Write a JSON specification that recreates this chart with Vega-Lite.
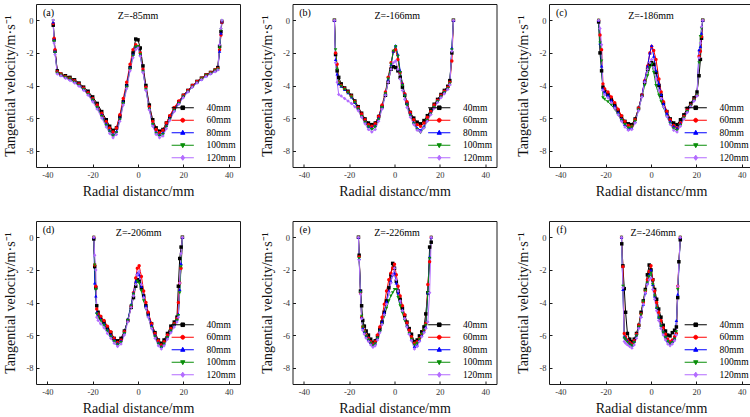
{
  "$schema": "https://vega.github.io/schema/vega-lite/v6.json",
  "padding": {"left": 3, "top": 3, "right": 0, "bottom": 0},
  "config": {
    "view": {"stroke": "#1a1a1a", "strokeWidth": 1},
    "font": "Liberation Serif",
    "axis": {
      "domain": false, "grid": false, "tickSize": -3, "tickColor": "#1a1a1a", "tickWidth": 1,
      "labelFont": "Liberation Serif", "labelFontSize": 8.5, "labelColor": "#333", "labelPadding": 6,
      "titleFont": "Liberation Serif", "titleFontSize": 14, "titleFontWeight": "normal", "titleColor": "#111",
      "labelExpr": "'' + datum.value"
    },
    "axisX": {"titlePadding": 6},
    "axisY": {"titlePadding": 8},
    "text": {"font": "Liberation Serif", "fontSize": 10, "color": "#000"},
    "legend": {
      "orient": "bottom-right", "offset": 4, "padding": 0,
      "symbolSize": 36, "symbolOffset": 11, "labelOffset": 19, "rowPadding": 1.5,
      "labelFont": "Liberation Serif", "labelFontSize": 9.5, "labelColor": "#000"
    }
  },
  "datasets": {
    "a": [
      {"s":"40mm","x":-37.4,"y":-0.3},{"s":"40mm","x":-37,"y":-1.2},{"s":"40mm","x":-36.6,"y":-1.9},{"s":"40mm","x":-35.6,"y":-3.1},{"s":"40mm","x":-34,"y":-3.3},{"s":"40mm","x":-32,"y":-3.4},{"s":"40mm","x":-30,"y":-3.5},{"s":"40mm","x":-28,"y":-3.65},{"s":"40mm","x":-26,"y":-3.85},{"s":"40mm","x":-24,"y":-4.1},{"s":"40mm","x":-22,"y":-4.35},{"s":"40mm","x":-20,"y":-4.7},{"s":"40mm","x":-18,"y":-5.1},{"s":"40mm","x":-16,"y":-5.6},{"s":"40mm","x":-14,"y":-6.1},{"s":"40mm","x":-12.5,"y":-6.5},{"s":"40mm","x":-11,"y":-6.75},{"s":"40mm","x":-9.5,"y":-6.6},{"s":"40mm","x":-8,"y":-5.9},{"s":"40mm","x":-6.5,"y":-5.0},{"s":"40mm","x":-5,"y":-4.0},{"s":"40mm","x":-3.5,"y":-2.9},{"s":"40mm","x":-2.2,"y":-2.0},{"s":"40mm","x":-1,"y":-1.15},{"s":"40mm","x":0,"y":-1.2},{"s":"40mm","x":1,"y":-1.7},{"s":"40mm","x":2.2,"y":-2.8},{"s":"40mm","x":3.5,"y":-4.0},{"s":"40mm","x":5,"y":-5.2},{"s":"40mm","x":6.5,"y":-6.1},{"s":"40mm","x":8,"y":-6.6},{"s":"40mm","x":9.5,"y":-6.8},{"s":"40mm","x":11,"y":-6.7},{"s":"40mm","x":12.5,"y":-6.3},{"s":"40mm","x":14,"y":-5.9},{"s":"40mm","x":16,"y":-5.4},{"s":"40mm","x":18,"y":-5.0},{"s":"40mm","x":20,"y":-4.6},{"s":"40mm","x":22,"y":-4.3},{"s":"40mm","x":24,"y":-4.0},{"s":"40mm","x":26,"y":-3.75},{"s":"40mm","x":28,"y":-3.55},{"s":"40mm","x":30,"y":-3.35},{"s":"40mm","x":32,"y":-3.2},{"s":"40mm","x":34,"y":-3.05},{"s":"40mm","x":35.2,"y":-2.9},{"s":"40mm","x":36,"y":-1.6},{"s":"40mm","x":36.6,"y":-0.7},{"s":"40mm","x":37,"y":-0.1},
      {"s":"60mm","x":-37.4,"y":-0.2},{"s":"60mm","x":-37,"y":-1.1},{"s":"60mm","x":-36.6,"y":-1.8},{"s":"60mm","x":-35.6,"y":-3.15},{"s":"60mm","x":-34,"y":-3.3},{"s":"60mm","x":-32,"y":-3.45},{"s":"60mm","x":-30,"y":-3.55},{"s":"60mm","x":-28,"y":-3.7},{"s":"60mm","x":-26,"y":-3.9},{"s":"60mm","x":-24,"y":-4.15},{"s":"60mm","x":-22,"y":-4.45},{"s":"60mm","x":-20,"y":-4.8},{"s":"60mm","x":-18,"y":-5.2},{"s":"60mm","x":-16,"y":-5.7},{"s":"60mm","x":-14,"y":-6.2},{"s":"60mm","x":-12.5,"y":-6.6},{"s":"60mm","x":-11,"y":-6.85},{"s":"60mm","x":-9.5,"y":-6.6},{"s":"60mm","x":-8,"y":-5.8},{"s":"60mm","x":-6.5,"y":-4.8},{"s":"60mm","x":-5,"y":-3.8},{"s":"60mm","x":-3.5,"y":-2.7},{"s":"60mm","x":-2.2,"y":-1.8},{"s":"60mm","x":-1,"y":-1.5},{"s":"60mm","x":0,"y":-1.6},{"s":"60mm","x":1,"y":-2.0},{"s":"60mm","x":2.2,"y":-3.0},{"s":"60mm","x":3.5,"y":-4.1},{"s":"60mm","x":5,"y":-5.3},{"s":"60mm","x":6.5,"y":-6.2},{"s":"60mm","x":8,"y":-6.7},{"s":"60mm","x":9.5,"y":-6.9},{"s":"60mm","x":11,"y":-6.75},{"s":"60mm","x":12.5,"y":-6.3},{"s":"60mm","x":14,"y":-5.85},{"s":"60mm","x":16,"y":-5.35},{"s":"60mm","x":18,"y":-4.95},{"s":"60mm","x":20,"y":-4.6},{"s":"60mm","x":22,"y":-4.3},{"s":"60mm","x":24,"y":-4.0},{"s":"60mm","x":26,"y":-3.75},{"s":"60mm","x":28,"y":-3.55},{"s":"60mm","x":30,"y":-3.35},{"s":"60mm","x":32,"y":-3.2},{"s":"60mm","x":34,"y":-3.05},{"s":"60mm","x":35.2,"y":-2.95},{"s":"60mm","x":36,"y":-1.8},{"s":"60mm","x":36.6,"y":-0.9},{"s":"60mm","x":37,"y":-0.1},
      {"s":"80mm","x":-37.4,"y":-0.1},{"s":"80mm","x":-37,"y":-1.2},{"s":"80mm","x":-36.6,"y":-1.9},{"s":"80mm","x":-35.6,"y":-3.2},{"s":"80mm","x":-34,"y":-3.35},{"s":"80mm","x":-32,"y":-3.5},{"s":"80mm","x":-30,"y":-3.6},{"s":"80mm","x":-28,"y":-3.75},{"s":"80mm","x":-26,"y":-3.95},{"s":"80mm","x":-24,"y":-4.2},{"s":"80mm","x":-22,"y":-4.5},{"s":"80mm","x":-20,"y":-4.85},{"s":"80mm","x":-18,"y":-5.3},{"s":"80mm","x":-16,"y":-5.8},{"s":"80mm","x":-14,"y":-6.35},{"s":"80mm","x":-12.5,"y":-6.75},{"s":"80mm","x":-11,"y":-7.0},{"s":"80mm","x":-9.5,"y":-6.8},{"s":"80mm","x":-8,"y":-6.0},{"s":"80mm","x":-6.5,"y":-5.0},{"s":"80mm","x":-5,"y":-4.0},{"s":"80mm","x":-3.5,"y":-2.9},{"s":"80mm","x":-2.2,"y":-2.1},{"s":"80mm","x":-1,"y":-1.6},{"s":"80mm","x":0,"y":-1.6},{"s":"80mm","x":1,"y":-2.1},{"s":"80mm","x":2.2,"y":-3.1},{"s":"80mm","x":3.5,"y":-4.2},{"s":"80mm","x":5,"y":-5.4},{"s":"80mm","x":6.5,"y":-6.35},{"s":"80mm","x":8,"y":-6.85},{"s":"80mm","x":9.5,"y":-7.0},{"s":"80mm","x":11,"y":-6.9},{"s":"80mm","x":12.5,"y":-6.45},{"s":"80mm","x":14,"y":-6.0},{"s":"80mm","x":16,"y":-5.5},{"s":"80mm","x":18,"y":-5.05},{"s":"80mm","x":20,"y":-4.65},{"s":"80mm","x":22,"y":-4.35},{"s":"80mm","x":24,"y":-4.05},{"s":"80mm","x":26,"y":-3.8},{"s":"80mm","x":28,"y":-3.6},{"s":"80mm","x":30,"y":-3.4},{"s":"80mm","x":32,"y":-3.25},{"s":"80mm","x":34,"y":-3.1},{"s":"80mm","x":35.2,"y":-3.0},{"s":"80mm","x":36,"y":-1.9},{"s":"80mm","x":36.6,"y":-0.8},{"s":"80mm","x":37,"y":-0.05},
      {"s":"100mm","x":-37.4,"y":-0.05},{"s":"100mm","x":-37,"y":-1.3},{"s":"100mm","x":-36.6,"y":-2.0},{"s":"100mm","x":-35.6,"y":-3.25},{"s":"100mm","x":-34,"y":-3.35},{"s":"100mm","x":-32,"y":-3.5},{"s":"100mm","x":-30,"y":-3.6},{"s":"100mm","x":-28,"y":-3.8},{"s":"100mm","x":-26,"y":-4.0},{"s":"100mm","x":-24,"y":-4.25},{"s":"100mm","x":-22,"y":-4.55},{"s":"100mm","x":-20,"y":-4.9},{"s":"100mm","x":-18,"y":-5.35},{"s":"100mm","x":-16,"y":-5.9},{"s":"100mm","x":-14,"y":-6.45},{"s":"100mm","x":-12.5,"y":-6.85},{"s":"100mm","x":-11,"y":-7.1},{"s":"100mm","x":-9.5,"y":-6.9},{"s":"100mm","x":-8,"y":-6.1},{"s":"100mm","x":-6.5,"y":-5.1},{"s":"100mm","x":-5,"y":-4.1},{"s":"100mm","x":-3.5,"y":-3.0},{"s":"100mm","x":-2.2,"y":-2.2},{"s":"100mm","x":-1,"y":-1.65},{"s":"100mm","x":0,"y":-1.6},{"s":"100mm","x":1,"y":-2.1},{"s":"100mm","x":2.2,"y":-3.15},{"s":"100mm","x":3.5,"y":-4.25},{"s":"100mm","x":5,"y":-5.45},{"s":"100mm","x":6.5,"y":-6.4},{"s":"100mm","x":8,"y":-6.95},{"s":"100mm","x":9.5,"y":-7.1},{"s":"100mm","x":11,"y":-7.0},{"s":"100mm","x":12.5,"y":-6.55},{"s":"100mm","x":14,"y":-6.1},{"s":"100mm","x":16,"y":-5.55},{"s":"100mm","x":18,"y":-5.1},{"s":"100mm","x":20,"y":-4.7},{"s":"100mm","x":22,"y":-4.4},{"s":"100mm","x":24,"y":-4.1},{"s":"100mm","x":26,"y":-3.85},{"s":"100mm","x":28,"y":-3.6},{"s":"100mm","x":30,"y":-3.4},{"s":"100mm","x":32,"y":-3.25},{"s":"100mm","x":34,"y":-3.1},{"s":"100mm","x":35.2,"y":-3.0},{"s":"100mm","x":36,"y":-1.7},{"s":"100mm","x":36.6,"y":-0.6},{"s":"100mm","x":37,"y":-0.05},
      {"s":"120mm","x":-37.4,"y":0},{"s":"120mm","x":-37,"y":-1.4},{"s":"120mm","x":-36.6,"y":-2.1},{"s":"120mm","x":-35.6,"y":-3.3},{"s":"120mm","x":-34,"y":-3.4},{"s":"120mm","x":-32,"y":-3.55},{"s":"120mm","x":-30,"y":-3.7},{"s":"120mm","x":-28,"y":-3.85},{"s":"120mm","x":-26,"y":-4.05},{"s":"120mm","x":-24,"y":-4.3},{"s":"120mm","x":-22,"y":-4.6},{"s":"120mm","x":-20,"y":-5.0},{"s":"120mm","x":-18,"y":-5.45},{"s":"120mm","x":-16,"y":-6.0},{"s":"120mm","x":-14,"y":-6.55},{"s":"120mm","x":-12.5,"y":-6.95},{"s":"120mm","x":-11,"y":-7.2},{"s":"120mm","x":-9.5,"y":-7.0},{"s":"120mm","x":-8,"y":-6.2},{"s":"120mm","x":-6.5,"y":-5.2},{"s":"120mm","x":-5,"y":-4.2},{"s":"120mm","x":-3.5,"y":-3.1},{"s":"120mm","x":-2.2,"y":-2.3},{"s":"120mm","x":-1,"y":-1.8},{"s":"120mm","x":0,"y":-1.7},{"s":"120mm","x":1,"y":-2.2},{"s":"120mm","x":2.2,"y":-3.2},{"s":"120mm","x":3.5,"y":-4.3},{"s":"120mm","x":5,"y":-5.5},{"s":"120mm","x":6.5,"y":-6.5},{"s":"120mm","x":8,"y":-7.0},{"s":"120mm","x":9.5,"y":-7.2},{"s":"120mm","x":11,"y":-7.1},{"s":"120mm","x":12.5,"y":-6.65},{"s":"120mm","x":14,"y":-6.15},{"s":"120mm","x":16,"y":-5.6},{"s":"120mm","x":18,"y":-5.15},{"s":"120mm","x":20,"y":-4.75},{"s":"120mm","x":22,"y":-4.4},{"s":"120mm","x":24,"y":-4.1},{"s":"120mm","x":26,"y":-3.85},{"s":"120mm","x":28,"y":-3.65},{"s":"120mm","x":30,"y":-3.45},{"s":"120mm","x":32,"y":-3.3},{"s":"120mm","x":34,"y":-3.15},{"s":"120mm","x":35.2,"y":-3.05},{"s":"120mm","x":36,"y":-1.5},{"s":"120mm","x":36.6,"y":-0.5},{"s":"120mm","x":37,"y":0}
    ],
    "b": [
      {"s":"40mm","x":-26.5,"y":0},{"s":"40mm","x":-26,"y":-2.1},{"s":"40mm","x":-25.3,"y":-3.1},{"s":"40mm","x":-24.6,"y":-3.5},{"s":"40mm","x":-23.5,"y":-3.9},{"s":"40mm","x":-22,"y":-4.15},{"s":"40mm","x":-20.5,"y":-4.35},{"s":"40mm","x":-19,"y":-4.6},{"s":"40mm","x":-17.5,"y":-4.95},{"s":"40mm","x":-16,"y":-5.3},{"s":"40mm","x":-14.5,"y":-5.7},{"s":"40mm","x":-13,"y":-6.05},{"s":"40mm","x":-11.5,"y":-6.3},{"s":"40mm","x":-10,"y":-6.4},{"s":"40mm","x":-8.5,"y":-6.3},{"s":"40mm","x":-7,"y":-5.9},{"s":"40mm","x":-5.5,"y":-5.3},{"s":"40mm","x":-4,"y":-4.6},{"s":"40mm","x":-2.8,"y":-3.8},{"s":"40mm","x":-1.5,"y":-3.0},{"s":"40mm","x":-0.5,"y":-2.85},{"s":"40mm","x":0.5,"y":-2.9},{"s":"40mm","x":1.5,"y":-3.1},{"s":"40mm","x":2.5,"y":-3.5},{"s":"40mm","x":3.5,"y":-4.1},{"s":"40mm","x":4.5,"y":-4.6},{"s":"40mm","x":5.5,"y":-5.1},{"s":"40mm","x":7,"y":-5.65},{"s":"40mm","x":8.5,"y":-6.0},{"s":"40mm","x":10,"y":-6.25},{"s":"40mm","x":11.5,"y":-6.35},{"s":"40mm","x":13,"y":-6.15},{"s":"40mm","x":14.5,"y":-5.85},{"s":"40mm","x":16,"y":-5.5},{"s":"40mm","x":17.5,"y":-5.15},{"s":"40mm","x":19,"y":-4.85},{"s":"40mm","x":20.5,"y":-4.55},{"s":"40mm","x":22,"y":-4.3},{"s":"40mm","x":23.5,"y":-4.05},{"s":"40mm","x":24.4,"y":-3.7},{"s":"40mm","x":25.3,"y":-2.0},{"s":"40mm","x":26,"y":0},
      {"s":"60mm","x":-26.5,"y":0},{"s":"60mm","x":-26,"y":-2.0},{"s":"60mm","x":-25.3,"y":-2.7},{"s":"60mm","x":-24.6,"y":-3.8},{"s":"60mm","x":-23.5,"y":-4.0},{"s":"60mm","x":-22,"y":-4.2},{"s":"60mm","x":-20.5,"y":-4.4},{"s":"60mm","x":-19,"y":-4.65},{"s":"60mm","x":-17.5,"y":-5.0},{"s":"60mm","x":-16,"y":-5.35},{"s":"60mm","x":-14.5,"y":-5.75},{"s":"60mm","x":-13,"y":-6.1},{"s":"60mm","x":-11.5,"y":-6.4},{"s":"60mm","x":-10,"y":-6.5},{"s":"60mm","x":-8.5,"y":-6.35},{"s":"60mm","x":-7,"y":-5.9},{"s":"60mm","x":-5.5,"y":-5.2},{"s":"60mm","x":-4,"y":-4.4},{"s":"60mm","x":-2.8,"y":-3.5},{"s":"60mm","x":-1.5,"y":-2.6},{"s":"60mm","x":-0.5,"y":-1.9},{"s":"60mm","x":0.5,"y":-1.8},{"s":"60mm","x":1.5,"y":-2.4},{"s":"60mm","x":2.5,"y":-3.2},{"s":"60mm","x":3.5,"y":-3.9},{"s":"60mm","x":4.5,"y":-4.5},{"s":"60mm","x":5.5,"y":-5.0},{"s":"60mm","x":7,"y":-5.65},{"s":"60mm","x":8.5,"y":-6.1},{"s":"60mm","x":10,"y":-6.4},{"s":"60mm","x":11.5,"y":-6.5},{"s":"60mm","x":13,"y":-6.3},{"s":"60mm","x":14.5,"y":-5.95},{"s":"60mm","x":16,"y":-5.6},{"s":"60mm","x":17.5,"y":-5.2},{"s":"60mm","x":19,"y":-4.9},{"s":"60mm","x":20.5,"y":-4.6},{"s":"60mm","x":22,"y":-4.35},{"s":"60mm","x":23.5,"y":-4.1},{"s":"60mm","x":24.4,"y":-3.8},{"s":"60mm","x":25.3,"y":-2.5},{"s":"60mm","x":26,"y":0},
      {"s":"80mm","x":-26.5,"y":0},{"s":"80mm","x":-26,"y":-2.4},{"s":"80mm","x":-25.3,"y":-3.3},{"s":"80mm","x":-24.6,"y":-3.9},{"s":"80mm","x":-23.5,"y":-4.05},{"s":"80mm","x":-22,"y":-4.25},{"s":"80mm","x":-20.5,"y":-4.45},{"s":"80mm","x":-19,"y":-4.7},{"s":"80mm","x":-17.5,"y":-5.05},{"s":"80mm","x":-16,"y":-5.4},{"s":"80mm","x":-14.5,"y":-5.85},{"s":"80mm","x":-13,"y":-6.2},{"s":"80mm","x":-11.5,"y":-6.5},{"s":"80mm","x":-10,"y":-6.6},{"s":"80mm","x":-8.5,"y":-6.45},{"s":"80mm","x":-7,"y":-6.0},{"s":"80mm","x":-5.5,"y":-5.3},{"s":"80mm","x":-4,"y":-4.5},{"s":"80mm","x":-2.8,"y":-3.6},{"s":"80mm","x":-1.5,"y":-2.7},{"s":"80mm","x":-0.5,"y":-1.9},{"s":"80mm","x":0.5,"y":-1.55},{"s":"80mm","x":1.5,"y":-2.1},{"s":"80mm","x":2.5,"y":-3.1},{"s":"80mm","x":3.5,"y":-3.9},{"s":"80mm","x":4.5,"y":-4.55},{"s":"80mm","x":5.5,"y":-5.1},{"s":"80mm","x":7,"y":-5.75},{"s":"80mm","x":8.5,"y":-6.25},{"s":"80mm","x":10,"y":-6.6},{"s":"80mm","x":11.5,"y":-6.75},{"s":"80mm","x":13,"y":-6.5},{"s":"80mm","x":14.5,"y":-6.1},{"s":"80mm","x":16,"y":-5.7},{"s":"80mm","x":17.5,"y":-5.3},{"s":"80mm","x":19,"y":-4.95},{"s":"80mm","x":20.5,"y":-4.65},{"s":"80mm","x":22,"y":-4.4},{"s":"80mm","x":23.5,"y":-4.15},{"s":"80mm","x":24.4,"y":-3.9},{"s":"80mm","x":25.3,"y":-1.7},{"s":"80mm","x":26,"y":0},
      {"s":"100mm","x":-26.5,"y":0},{"s":"100mm","x":-26,"y":-1.8},{"s":"100mm","x":-25.3,"y":-3.0},{"s":"100mm","x":-24.6,"y":-3.85},{"s":"100mm","x":-23.5,"y":-4.05},{"s":"100mm","x":-22,"y":-4.25},{"s":"100mm","x":-20.5,"y":-4.45},{"s":"100mm","x":-19,"y":-4.7},{"s":"100mm","x":-17.5,"y":-5.05},{"s":"100mm","x":-16,"y":-5.45},{"s":"100mm","x":-14.5,"y":-5.9},{"s":"100mm","x":-13,"y":-6.25},{"s":"100mm","x":-11.5,"y":-6.55},{"s":"100mm","x":-10,"y":-6.7},{"s":"100mm","x":-8.5,"y":-6.55},{"s":"100mm","x":-7,"y":-6.1},{"s":"100mm","x":-5.5,"y":-5.35},{"s":"100mm","x":-4,"y":-4.5},{"s":"100mm","x":-2.8,"y":-3.6},{"s":"100mm","x":-1.5,"y":-2.7},{"s":"100mm","x":-0.5,"y":-1.9},{"s":"100mm","x":0.5,"y":-1.6},{"s":"100mm","x":1.5,"y":-2.2},{"s":"100mm","x":2.5,"y":-3.2},{"s":"100mm","x":3.5,"y":-4.0},{"s":"100mm","x":4.5,"y":-4.65},{"s":"100mm","x":5.5,"y":-5.2},{"s":"100mm","x":7,"y":-5.85},{"s":"100mm","x":8.5,"y":-6.35},{"s":"100mm","x":10,"y":-6.7},{"s":"100mm","x":11.5,"y":-6.9},{"s":"100mm","x":13,"y":-6.6},{"s":"100mm","x":14.5,"y":-6.15},{"s":"100mm","x":16,"y":-5.75},{"s":"100mm","x":17.5,"y":-5.35},{"s":"100mm","x":19,"y":-5.0},{"s":"100mm","x":20.5,"y":-4.7},{"s":"100mm","x":22,"y":-4.45},{"s":"100mm","x":23.5,"y":-4.2},{"s":"100mm","x":24.4,"y":-3.9},{"s":"100mm","x":25.3,"y":-1.8},{"s":"100mm","x":26,"y":0},
      {"s":"120mm","x":-26.5,"y":0},{"s":"120mm","x":-26,"y":-2.6},{"s":"120mm","x":-25.3,"y":-3.8},{"s":"120mm","x":-24.6,"y":-4.55},{"s":"120mm","x":-23.5,"y":-4.65},{"s":"120mm","x":-22,"y":-4.8},{"s":"120mm","x":-20.5,"y":-4.95},{"s":"120mm","x":-19,"y":-5.1},{"s":"120mm","x":-17.5,"y":-5.3},{"s":"120mm","x":-16,"y":-5.55},{"s":"120mm","x":-14.5,"y":-5.95},{"s":"120mm","x":-13,"y":-6.35},{"s":"120mm","x":-11.5,"y":-6.7},{"s":"120mm","x":-10,"y":-6.85},{"s":"120mm","x":-8.5,"y":-6.7},{"s":"120mm","x":-7,"y":-6.2},{"s":"120mm","x":-5.5,"y":-5.45},{"s":"120mm","x":-4,"y":-4.6},{"s":"120mm","x":-2.8,"y":-3.8},{"s":"120mm","x":-1.5,"y":-3.0},{"s":"120mm","x":-0.5,"y":-2.6},{"s":"120mm","x":0.5,"y":-2.5},{"s":"120mm","x":1.5,"y":-3.0},{"s":"120mm","x":2.5,"y":-3.6},{"s":"120mm","x":3.5,"y":-4.3},{"s":"120mm","x":4.5,"y":-4.85},{"s":"120mm","x":5.5,"y":-5.35},{"s":"120mm","x":7,"y":-5.95},{"s":"120mm","x":8.5,"y":-6.4},{"s":"120mm","x":10,"y":-6.75},{"s":"120mm","x":11.5,"y":-6.85},{"s":"120mm","x":13,"y":-6.6},{"s":"120mm","x":14.5,"y":-6.2},{"s":"120mm","x":16,"y":-5.8},{"s":"120mm","x":17.5,"y":-5.4},{"s":"120mm","x":19,"y":-5.05},{"s":"120mm","x":20.5,"y":-4.75},{"s":"120mm","x":22,"y":-4.5},{"s":"120mm","x":23.5,"y":-4.25},{"s":"120mm","x":24.4,"y":-3.95},{"s":"120mm","x":25.3,"y":-1.9},{"s":"120mm","x":26,"y":0}
    ],
    "c": [
      {"s":"40mm","x":-23.1,"y":-0.1},{"s":"40mm","x":-22.5,"y":-2.0},{"s":"40mm","x":-21.8,"y":-3.1},{"s":"40mm","x":-21.2,"y":-4.1},{"s":"40mm","x":-20.5,"y":-4.3},{"s":"40mm","x":-19,"y":-4.55},{"s":"40mm","x":-17.5,"y":-4.85},{"s":"40mm","x":-16,"y":-5.2},{"s":"40mm","x":-14.5,"y":-5.55},{"s":"40mm","x":-13,"y":-5.9},{"s":"40mm","x":-11.5,"y":-6.2},{"s":"40mm","x":-10,"y":-6.35},{"s":"40mm","x":-8.5,"y":-6.4},{"s":"40mm","x":-7,"y":-6.05},{"s":"40mm","x":-5.5,"y":-5.4},{"s":"40mm","x":-4,"y":-4.6},{"s":"40mm","x":-2.8,"y":-3.8},{"s":"40mm","x":-1.5,"y":-3.0},{"s":"40mm","x":-0.5,"y":-2.7},{"s":"40mm","x":0.3,"y":-2.6},{"s":"40mm","x":1.2,"y":-2.7},{"s":"40mm","x":2.2,"y":-3.2},{"s":"40mm","x":3.5,"y":-4.0},{"s":"40mm","x":4.5,"y":-4.6},{"s":"40mm","x":5.5,"y":-5.1},{"s":"40mm","x":7,"y":-5.6},{"s":"40mm","x":8.5,"y":-6.05},{"s":"40mm","x":10,"y":-6.3},{"s":"40mm","x":11.5,"y":-6.4},{"s":"40mm","x":13,"y":-6.1},{"s":"40mm","x":14.5,"y":-5.8},{"s":"40mm","x":16,"y":-5.4},{"s":"40mm","x":17.5,"y":-5.1},{"s":"40mm","x":19,"y":-4.75},{"s":"40mm","x":20.3,"y":-4.4},{"s":"40mm","x":21.2,"y":-3.4},{"s":"40mm","x":21.8,"y":-2.4},{"s":"40mm","x":22.3,"y":-1.1},{"s":"40mm","x":22.8,"y":0},
      {"s":"60mm","x":-23.1,"y":0},{"s":"60mm","x":-22.5,"y":-0.9},{"s":"60mm","x":-21.8,"y":-1.8},{"s":"60mm","x":-21.2,"y":-3.9},{"s":"60mm","x":-20.5,"y":-4.2},{"s":"60mm","x":-19,"y":-4.4},{"s":"60mm","x":-17.5,"y":-4.7},{"s":"60mm","x":-16,"y":-5.05},{"s":"60mm","x":-14.5,"y":-5.45},{"s":"60mm","x":-13,"y":-5.85},{"s":"60mm","x":-11.5,"y":-6.2},{"s":"60mm","x":-10,"y":-6.45},{"s":"60mm","x":-8.5,"y":-6.5},{"s":"60mm","x":-7,"y":-6.1},{"s":"60mm","x":-5.5,"y":-5.4},{"s":"60mm","x":-4,"y":-4.6},{"s":"60mm","x":-2.8,"y":-3.7},{"s":"60mm","x":-1.5,"y":-2.8},{"s":"60mm","x":-0.5,"y":-2.0},{"s":"60mm","x":0.3,"y":-1.6},{"s":"60mm","x":1.2,"y":-1.85},{"s":"60mm","x":2.2,"y":-2.4},{"s":"60mm","x":3.5,"y":-3.6},{"s":"60mm","x":4.5,"y":-4.4},{"s":"60mm","x":5.5,"y":-5.0},{"s":"60mm","x":7,"y":-5.6},{"s":"60mm","x":8.5,"y":-6.1},{"s":"60mm","x":10,"y":-6.45},{"s":"60mm","x":11.5,"y":-6.6},{"s":"60mm","x":13,"y":-6.3},{"s":"60mm","x":14.5,"y":-5.9},{"s":"60mm","x":16,"y":-5.5},{"s":"60mm","x":17.5,"y":-5.2},{"s":"60mm","x":19,"y":-4.85},{"s":"60mm","x":20.3,"y":-4.6},{"s":"60mm","x":21.2,"y":-2.2},{"s":"60mm","x":21.8,"y":-1.9},{"s":"60mm","x":22.3,"y":-1.0},{"s":"60mm","x":22.8,"y":0},
      {"s":"80mm","x":-23.1,"y":0},{"s":"80mm","x":-22.5,"y":-1.4},{"s":"80mm","x":-21.8,"y":-2.8},{"s":"80mm","x":-21.2,"y":-4.2},{"s":"80mm","x":-20.5,"y":-4.4},{"s":"80mm","x":-19,"y":-4.6},{"s":"80mm","x":-17.5,"y":-4.9},{"s":"80mm","x":-16,"y":-5.25},{"s":"80mm","x":-14.5,"y":-5.65},{"s":"80mm","x":-13,"y":-6.05},{"s":"80mm","x":-11.5,"y":-6.4},{"s":"80mm","x":-10,"y":-6.65},{"s":"80mm","x":-8.5,"y":-6.6},{"s":"80mm","x":-7,"y":-6.2},{"s":"80mm","x":-5.5,"y":-5.45},{"s":"80mm","x":-4,"y":-4.6},{"s":"80mm","x":-2.8,"y":-3.7},{"s":"80mm","x":-1.5,"y":-2.8},{"s":"80mm","x":-0.5,"y":-2.0},{"s":"80mm","x":0.3,"y":-1.55},{"s":"80mm","x":1.2,"y":-2.2},{"s":"80mm","x":2.2,"y":-3.1},{"s":"80mm","x":3.5,"y":-3.9},{"s":"80mm","x":4.5,"y":-4.55},{"s":"80mm","x":5.5,"y":-5.1},{"s":"80mm","x":7,"y":-5.7},{"s":"80mm","x":8.5,"y":-6.2},{"s":"80mm","x":10,"y":-6.5},{"s":"80mm","x":11.5,"y":-6.6},{"s":"80mm","x":13,"y":-6.35},{"s":"80mm","x":14.5,"y":-5.95},{"s":"80mm","x":16,"y":-5.55},{"s":"80mm","x":17.5,"y":-5.2},{"s":"80mm","x":19,"y":-4.85},{"s":"80mm","x":20.3,"y":-4.55},{"s":"80mm","x":21.2,"y":-1.8},{"s":"80mm","x":21.8,"y":-1.6},{"s":"80mm","x":22.3,"y":-0.8},{"s":"80mm","x":22.8,"y":0},
      {"s":"100mm","x":-23.1,"y":0},{"s":"100mm","x":-22.5,"y":-1.4},{"s":"100mm","x":-21.8,"y":-2.5},{"s":"100mm","x":-21.2,"y":-4.75},{"s":"100mm","x":-20.5,"y":-4.85},{"s":"100mm","x":-19,"y":-5.0},{"s":"100mm","x":-17.5,"y":-5.2},{"s":"100mm","x":-16,"y":-5.45},{"s":"100mm","x":-14.5,"y":-5.8},{"s":"100mm","x":-13,"y":-6.15},{"s":"100mm","x":-11.5,"y":-6.4},{"s":"100mm","x":-10,"y":-6.6},{"s":"100mm","x":-8.5,"y":-6.55},{"s":"100mm","x":-7,"y":-6.2},{"s":"100mm","x":-5.5,"y":-5.5},{"s":"100mm","x":-4,"y":-4.7},{"s":"100mm","x":-2.8,"y":-4.0},{"s":"100mm","x":-1.5,"y":-3.4},{"s":"100mm","x":-0.5,"y":-2.9},{"s":"100mm","x":0.3,"y":-2.7},{"s":"100mm","x":1.2,"y":-3.2},{"s":"100mm","x":2.2,"y":-4.0},{"s":"100mm","x":3.5,"y":-4.6},{"s":"100mm","x":4.5,"y":-5.0},{"s":"100mm","x":5.5,"y":-5.35},{"s":"100mm","x":7,"y":-5.9},{"s":"100mm","x":8.5,"y":-6.35},{"s":"100mm","x":10,"y":-6.65},{"s":"100mm","x":11.5,"y":-6.75},{"s":"100mm","x":13,"y":-6.45},{"s":"100mm","x":14.5,"y":-6.0},{"s":"100mm","x":16,"y":-5.6},{"s":"100mm","x":17.5,"y":-5.25},{"s":"100mm","x":19,"y":-4.9},{"s":"100mm","x":20.3,"y":-4.6},{"s":"100mm","x":21.2,"y":-2.6},{"s":"100mm","x":21.8,"y":-1.0},{"s":"100mm","x":22.3,"y":-0.5},{"s":"100mm","x":22.8,"y":0},
      {"s":"120mm","x":-23.1,"y":0},{"s":"120mm","x":-22.5,"y":-0.5},{"s":"120mm","x":-21.8,"y":-1.5},{"s":"120mm","x":-21.2,"y":-4.3},{"s":"120mm","x":-20.5,"y":-4.55},{"s":"120mm","x":-19,"y":-4.75},{"s":"120mm","x":-17.5,"y":-5.05},{"s":"120mm","x":-16,"y":-5.4},{"s":"120mm","x":-14.5,"y":-5.8},{"s":"120mm","x":-13,"y":-6.2},{"s":"120mm","x":-11.5,"y":-6.55},{"s":"120mm","x":-10,"y":-6.75},{"s":"120mm","x":-8.5,"y":-6.7},{"s":"120mm","x":-7,"y":-6.3},{"s":"120mm","x":-5.5,"y":-5.55},{"s":"120mm","x":-4,"y":-4.7},{"s":"120mm","x":-2.8,"y":-3.8},{"s":"120mm","x":-1.5,"y":-3.0},{"s":"120mm","x":-0.5,"y":-2.6},{"s":"120mm","x":0.3,"y":-2.4},{"s":"120mm","x":1.2,"y":-2.9},{"s":"120mm","x":2.2,"y":-3.6},{"s":"120mm","x":3.5,"y":-4.3},{"s":"120mm","x":4.5,"y":-4.8},{"s":"120mm","x":5.5,"y":-5.3},{"s":"120mm","x":7,"y":-5.9},{"s":"120mm","x":8.5,"y":-6.4},{"s":"120mm","x":10,"y":-6.75},{"s":"120mm","x":11.5,"y":-6.85},{"s":"120mm","x":13,"y":-6.5},{"s":"120mm","x":14.5,"y":-6.05},{"s":"120mm","x":16,"y":-5.65},{"s":"120mm","x":17.5,"y":-5.3},{"s":"120mm","x":19,"y":-4.95},{"s":"120mm","x":20.3,"y":-4.65},{"s":"120mm","x":21.2,"y":-2.3},{"s":"120mm","x":21.8,"y":-1.4},{"s":"120mm","x":22.3,"y":-0.4},{"s":"120mm","x":22.8,"y":0}
    ],
    "d": [
      {"s":"40mm","x":-19.5,"y":-0.1},{"s":"40mm","x":-19.1,"y":-1.8},{"s":"40mm","x":-18.6,"y":-3.1},{"s":"40mm","x":-18.2,"y":-4.2},{"s":"40mm","x":-17.6,"y":-4.6},{"s":"40mm","x":-16.5,"y":-4.9},{"s":"40mm","x":-15,"y":-5.2},{"s":"40mm","x":-13.5,"y":-5.55},{"s":"40mm","x":-12,"y":-5.85},{"s":"40mm","x":-10.5,"y":-6.2},{"s":"40mm","x":-9,"y":-6.35},{"s":"40mm","x":-7.5,"y":-6.2},{"s":"40mm","x":-6,"y":-5.75},{"s":"40mm","x":-4.5,"y":-5.1},{"s":"40mm","x":-3,"y":-4.3},{"s":"40mm","x":-2,"y":-3.7},{"s":"40mm","x":-1,"y":-3.0},{"s":"40mm","x":-0.3,"y":-2.6},{"s":"40mm","x":0.5,"y":-2.7},{"s":"40mm","x":1.5,"y":-3.1},{"s":"40mm","x":2.5,"y":-3.6},{"s":"40mm","x":3.5,"y":-4.2},{"s":"40mm","x":4.5,"y":-4.7},{"s":"40mm","x":6,"y":-5.3},{"s":"40mm","x":7.5,"y":-5.85},{"s":"40mm","x":9,"y":-6.3},{"s":"40mm","x":10.3,"y":-6.5},{"s":"40mm","x":11.5,"y":-6.3},{"s":"40mm","x":13,"y":-5.9},{"s":"40mm","x":14.5,"y":-5.45},{"s":"40mm","x":16,"y":-5.2},{"s":"40mm","x":17.2,"y":-4.9},{"s":"40mm","x":17.8,"y":-3.0},{"s":"40mm","x":18.4,"y":-1.3},{"s":"40mm","x":19,"y":-0.6},{"s":"40mm","x":19.6,"y":0},
      {"s":"60mm","x":-19.5,"y":0},{"s":"60mm","x":-19.1,"y":-1.7},{"s":"60mm","x":-18.6,"y":-3.0},{"s":"60mm","x":-18.2,"y":-4.4},{"s":"60mm","x":-17.6,"y":-4.7},{"s":"60mm","x":-16.5,"y":-4.85},{"s":"60mm","x":-15,"y":-5.1},{"s":"60mm","x":-13.5,"y":-5.45},{"s":"60mm","x":-12,"y":-5.8},{"s":"60mm","x":-10.5,"y":-6.2},{"s":"60mm","x":-9,"y":-6.45},{"s":"60mm","x":-7.5,"y":-6.3},{"s":"60mm","x":-6,"y":-5.8},{"s":"60mm","x":-4.5,"y":-5.1},{"s":"60mm","x":-3,"y":-4.2},{"s":"60mm","x":-2,"y":-3.4},{"s":"60mm","x":-1,"y":-2.5},{"s":"60mm","x":-0.3,"y":-1.9},{"s":"60mm","x":0.5,"y":-1.75},{"s":"60mm","x":1.5,"y":-2.4},{"s":"60mm","x":2.5,"y":-3.3},{"s":"60mm","x":3.5,"y":-4.0},{"s":"60mm","x":4.5,"y":-4.6},{"s":"60mm","x":6,"y":-5.3},{"s":"60mm","x":7.5,"y":-5.9},{"s":"60mm","x":9,"y":-6.35},{"s":"60mm","x":10.3,"y":-6.6},{"s":"60mm","x":11.5,"y":-6.4},{"s":"60mm","x":13,"y":-6.0},{"s":"60mm","x":14.5,"y":-5.6},{"s":"60mm","x":16,"y":-5.3},{"s":"60mm","x":17.2,"y":-5.0},{"s":"60mm","x":17.8,"y":-4.0},{"s":"60mm","x":18.4,"y":-2.8},{"s":"60mm","x":19,"y":-1.9},{"s":"60mm","x":19.6,"y":0},
      {"s":"80mm","x":-19.5,"y":0},{"s":"80mm","x":-19.1,"y":-2.8},{"s":"80mm","x":-18.6,"y":-3.6},{"s":"80mm","x":-18.2,"y":-4.6},{"s":"80mm","x":-17.6,"y":-4.8},{"s":"80mm","x":-16.5,"y":-5.0},{"s":"80mm","x":-15,"y":-5.3},{"s":"80mm","x":-13.5,"y":-5.65},{"s":"80mm","x":-12,"y":-6.0},{"s":"80mm","x":-10.5,"y":-6.3},{"s":"80mm","x":-9,"y":-6.5},{"s":"80mm","x":-7.5,"y":-6.35},{"s":"80mm","x":-6,"y":-5.85},{"s":"80mm","x":-4.5,"y":-5.05},{"s":"80mm","x":-3,"y":-4.1},{"s":"80mm","x":-2,"y":-3.4},{"s":"80mm","x":-1,"y":-2.7},{"s":"80mm","x":-0.3,"y":-2.2},{"s":"80mm","x":0.5,"y":-2.3},{"s":"80mm","x":1.5,"y":-3.0},{"s":"80mm","x":2.5,"y":-3.6},{"s":"80mm","x":3.5,"y":-4.2},{"s":"80mm","x":4.5,"y":-4.75},{"s":"80mm","x":6,"y":-5.4},{"s":"80mm","x":7.5,"y":-6.0},{"s":"80mm","x":9,"y":-6.45},{"s":"80mm","x":10.3,"y":-6.7},{"s":"80mm","x":11.5,"y":-6.5},{"s":"80mm","x":13,"y":-6.1},{"s":"80mm","x":14.5,"y":-5.7},{"s":"80mm","x":16,"y":-5.35},{"s":"80mm","x":17.2,"y":-5.05},{"s":"80mm","x":17.8,"y":-4.7},{"s":"80mm","x":18.4,"y":-3.2},{"s":"80mm","x":19,"y":-1.6},{"s":"80mm","x":19.6,"y":0},
      {"s":"100mm","x":-19.5,"y":0},{"s":"100mm","x":-19.1,"y":-1.7},{"s":"100mm","x":-18.6,"y":-3.2},{"s":"100mm","x":-18.2,"y":-4.7},{"s":"100mm","x":-17.6,"y":-4.9},{"s":"100mm","x":-16.5,"y":-5.1},{"s":"100mm","x":-15,"y":-5.4},{"s":"100mm","x":-13.5,"y":-5.75},{"s":"100mm","x":-12,"y":-6.1},{"s":"100mm","x":-10.5,"y":-6.4},{"s":"100mm","x":-9,"y":-6.6},{"s":"100mm","x":-7.5,"y":-6.45},{"s":"100mm","x":-6,"y":-5.9},{"s":"100mm","x":-4.5,"y":-5.1},{"s":"100mm","x":-3,"y":-4.2},{"s":"100mm","x":-2,"y":-3.5},{"s":"100mm","x":-1,"y":-2.9},{"s":"100mm","x":-0.3,"y":-2.7},{"s":"100mm","x":0.5,"y":-2.8},{"s":"100mm","x":1.5,"y":-3.3},{"s":"100mm","x":2.5,"y":-3.9},{"s":"100mm","x":3.5,"y":-4.4},{"s":"100mm","x":4.5,"y":-4.9},{"s":"100mm","x":6,"y":-5.55},{"s":"100mm","x":7.5,"y":-6.1},{"s":"100mm","x":9,"y":-6.55},{"s":"100mm","x":10.3,"y":-6.75},{"s":"100mm","x":11.5,"y":-6.55},{"s":"100mm","x":13,"y":-6.15},{"s":"100mm","x":14.5,"y":-5.75},{"s":"100mm","x":16,"y":-5.4},{"s":"100mm","x":17.2,"y":-5.1},{"s":"100mm","x":17.8,"y":-4.8},{"s":"100mm","x":18.4,"y":-3.4},{"s":"100mm","x":19,"y":-1.8},{"s":"100mm","x":19.6,"y":0},
      {"s":"120mm","x":-19.5,"y":0},{"s":"120mm","x":-19.1,"y":-1.1},{"s":"120mm","x":-18.6,"y":-2.0},{"s":"120mm","x":-18.2,"y":-4.9},{"s":"120mm","x":-17.6,"y":-5.1},{"s":"120mm","x":-16.5,"y":-5.3},{"s":"120mm","x":-15,"y":-5.55},{"s":"120mm","x":-13.5,"y":-5.9},{"s":"120mm","x":-12,"y":-6.2},{"s":"120mm","x":-10.5,"y":-6.5},{"s":"120mm","x":-9,"y":-6.7},{"s":"120mm","x":-7.5,"y":-6.55},{"s":"120mm","x":-6,"y":-6.0},{"s":"120mm","x":-4.5,"y":-5.2},{"s":"120mm","x":-3,"y":-4.3},{"s":"120mm","x":-2,"y":-3.6},{"s":"120mm","x":-1,"y":-2.9},{"s":"120mm","x":-0.3,"y":-2.3},{"s":"120mm","x":0.5,"y":-2.1},{"s":"120mm","x":1.5,"y":-2.9},{"s":"120mm","x":2.5,"y":-3.7},{"s":"120mm","x":3.5,"y":-4.35},{"s":"120mm","x":4.5,"y":-4.9},{"s":"120mm","x":6,"y":-5.6},{"s":"120mm","x":7.5,"y":-6.2},{"s":"120mm","x":9,"y":-6.65},{"s":"120mm","x":10.3,"y":-6.85},{"s":"120mm","x":11.5,"y":-6.65},{"s":"120mm","x":13,"y":-6.25},{"s":"120mm","x":14.5,"y":-5.85},{"s":"120mm","x":16,"y":-5.5},{"s":"120mm","x":17.2,"y":-5.2},{"s":"120mm","x":17.8,"y":-4.9},{"s":"120mm","x":18.4,"y":-2.8},{"s":"120mm","x":19,"y":-1.0},{"s":"120mm","x":19.6,"y":0}
    ],
    "e": [
      {"s":"40mm","x":-15.9,"y":0},{"s":"40mm","x":-15.6,"y":-1.1},{"s":"40mm","x":-15,"y":-3.3},{"s":"40mm","x":-14.5,"y":-4.2},{"s":"40mm","x":-14,"y":-5.1},{"s":"40mm","x":-13.3,"y":-5.45},{"s":"40mm","x":-12.5,"y":-5.75},{"s":"40mm","x":-11.5,"y":-6.0},{"s":"40mm","x":-10.5,"y":-6.25},{"s":"40mm","x":-9.5,"y":-6.45},{"s":"40mm","x":-8.5,"y":-6.35},{"s":"40mm","x":-7.5,"y":-6.05},{"s":"40mm","x":-6.5,"y":-5.65},{"s":"40mm","x":-5.5,"y":-5.2},{"s":"40mm","x":-4.5,"y":-4.6},{"s":"40mm","x":-3.5,"y":-3.9},{"s":"40mm","x":-2.5,"y":-3.1},{"s":"40mm","x":-1.6,"y":-2.3},{"s":"40mm","x":-0.8,"y":-1.6},{"s":"40mm","x":0,"y":-1.9},{"s":"40mm","x":0.8,"y":-2.7},{"s":"40mm","x":1.6,"y":-3.3},{"s":"40mm","x":2.5,"y":-3.8},{"s":"40mm","x":3.5,"y":-4.35},{"s":"40mm","x":4.5,"y":-4.8},{"s":"40mm","x":5.5,"y":-5.2},{"s":"40mm","x":6.5,"y":-5.6},{"s":"40mm","x":7.5,"y":-5.95},{"s":"40mm","x":8.8,"y":-6.4},{"s":"40mm","x":10,"y":-6.3},{"s":"40mm","x":11,"y":-6.05},{"s":"40mm","x":12,"y":-5.8},{"s":"40mm","x":13,"y":-5.5},{"s":"40mm","x":13.8,"y":-4.7},{"s":"40mm","x":14.7,"y":-3.4},{"s":"40mm","x":15.5,"y":-0.6},{"s":"40mm","x":16.2,"y":-0.3},
      {"s":"60mm","x":-15.9,"y":0},{"s":"60mm","x":-15.6,"y":-1.2},{"s":"60mm","x":-15,"y":-3.4},{"s":"60mm","x":-14.5,"y":-4.9},{"s":"60mm","x":-14,"y":-5.5},{"s":"60mm","x":-13.3,"y":-5.75},{"s":"60mm","x":-12.5,"y":-6.0},{"s":"60mm","x":-11.5,"y":-6.2},{"s":"60mm","x":-10.5,"y":-6.4},{"s":"60mm","x":-9.5,"y":-6.55},{"s":"60mm","x":-8.5,"y":-6.4},{"s":"60mm","x":-7.5,"y":-6.0},{"s":"60mm","x":-6.5,"y":-5.5},{"s":"60mm","x":-5.5,"y":-4.9},{"s":"60mm","x":-4.5,"y":-4.1},{"s":"60mm","x":-3.5,"y":-3.3},{"s":"60mm","x":-2.5,"y":-2.6},{"s":"60mm","x":-1.6,"y":-2.2},{"s":"60mm","x":-0.8,"y":-1.9},{"s":"60mm","x":0,"y":-1.65},{"s":"60mm","x":0.8,"y":-2.3},{"s":"60mm","x":1.6,"y":-3.0},{"s":"60mm","x":2.5,"y":-3.6},{"s":"60mm","x":3.5,"y":-4.2},{"s":"60mm","x":4.5,"y":-4.75},{"s":"60mm","x":5.5,"y":-5.25},{"s":"60mm","x":6.5,"y":-5.7},{"s":"60mm","x":7.5,"y":-6.1},{"s":"60mm","x":8.8,"y":-6.5},{"s":"60mm","x":10,"y":-6.4},{"s":"60mm","x":11,"y":-6.2},{"s":"60mm","x":12,"y":-5.95},{"s":"60mm","x":13,"y":-5.7},{"s":"60mm","x":13.8,"y":-5.3},{"s":"60mm","x":14.7,"y":-2.9},{"s":"60mm","x":15.5,"y":-1.5},{"s":"60mm","x":16.2,"y":0},
      {"s":"80mm","x":-15.9,"y":0},{"s":"80mm","x":-15.6,"y":-1.3},{"s":"80mm","x":-15,"y":-3.3},{"s":"80mm","x":-14.5,"y":-4.9},{"s":"80mm","x":-14,"y":-5.55},{"s":"80mm","x":-13.3,"y":-5.8},{"s":"80mm","x":-12.5,"y":-6.05},{"s":"80mm","x":-11.5,"y":-6.25},{"s":"80mm","x":-10.5,"y":-6.45},{"s":"80mm","x":-9.5,"y":-6.6},{"s":"80mm","x":-8.5,"y":-6.5},{"s":"80mm","x":-7.5,"y":-6.15},{"s":"80mm","x":-6.5,"y":-5.7},{"s":"80mm","x":-5.5,"y":-5.2},{"s":"80mm","x":-4.5,"y":-4.6},{"s":"80mm","x":-3.5,"y":-3.95},{"s":"80mm","x":-2.5,"y":-3.3},{"s":"80mm","x":-1.6,"y":-2.7},{"s":"80mm","x":-0.8,"y":-2.3},{"s":"80mm","x":0,"y":-2.2},{"s":"80mm","x":0.8,"y":-2.8},{"s":"80mm","x":1.6,"y":-3.4},{"s":"80mm","x":2.5,"y":-3.9},{"s":"80mm","x":3.5,"y":-4.45},{"s":"80mm","x":4.5,"y":-4.95},{"s":"80mm","x":5.5,"y":-5.4},{"s":"80mm","x":6.5,"y":-5.85},{"s":"80mm","x":7.5,"y":-6.25},{"s":"80mm","x":8.8,"y":-6.7},{"s":"80mm","x":10,"y":-6.6},{"s":"80mm","x":11,"y":-6.3},{"s":"80mm","x":12,"y":-6.0},{"s":"80mm","x":13,"y":-5.75},{"s":"80mm","x":13.8,"y":-5.5},{"s":"80mm","x":14.7,"y":-3.4},{"s":"80mm","x":15.5,"y":-1.2},{"s":"80mm","x":16.2,"y":0},
      {"s":"100mm","x":-15.9,"y":0},{"s":"100mm","x":-15.6,"y":-1.3},{"s":"100mm","x":-15,"y":-3.4},{"s":"100mm","x":-14.5,"y":-4.85},{"s":"100mm","x":-14,"y":-5.5},{"s":"100mm","x":-13.3,"y":-5.8},{"s":"100mm","x":-12.5,"y":-6.05},{"s":"100mm","x":-11.5,"y":-6.3},{"s":"100mm","x":-10.5,"y":-6.5},{"s":"100mm","x":-9.5,"y":-6.65},{"s":"100mm","x":-8.5,"y":-6.55},{"s":"100mm","x":-7.5,"y":-6.2},{"s":"100mm","x":-6.5,"y":-5.8},{"s":"100mm","x":-5.5,"y":-5.35},{"s":"100mm","x":-4.5,"y":-4.85},{"s":"100mm","x":-3.5,"y":-4.35},{"s":"100mm","x":-2.5,"y":-3.9},{"s":"100mm","x":-1.6,"y":-3.6},{"s":"100mm","x":-0.8,"y":-3.4},{"s":"100mm","x":0,"y":-3.2},{"s":"100mm","x":0.8,"y":-3.2},{"s":"100mm","x":1.6,"y":-3.7},{"s":"100mm","x":2.5,"y":-4.2},{"s":"100mm","x":3.5,"y":-4.65},{"s":"100mm","x":4.5,"y":-5.1},{"s":"100mm","x":5.5,"y":-5.5},{"s":"100mm","x":6.5,"y":-5.9},{"s":"100mm","x":7.5,"y":-6.25},{"s":"100mm","x":8.8,"y":-6.6},{"s":"100mm","x":10,"y":-6.5},{"s":"100mm","x":11,"y":-6.25},{"s":"100mm","x":12,"y":-5.95},{"s":"100mm","x":13,"y":-5.7},{"s":"100mm","x":13.8,"y":-5.4},{"s":"100mm","x":14.7,"y":-3.4},{"s":"100mm","x":15.5,"y":-1.3},{"s":"100mm","x":16.2,"y":0},
      {"s":"120mm","x":-15.9,"y":0},{"s":"120mm","x":-15.6,"y":-1.4},{"s":"120mm","x":-15,"y":-3.5},{"s":"120mm","x":-14.5,"y":-5.0},{"s":"120mm","x":-14,"y":-5.7},{"s":"120mm","x":-13.3,"y":-5.95},{"s":"120mm","x":-12.5,"y":-6.2},{"s":"120mm","x":-11.5,"y":-6.4},{"s":"120mm","x":-10.5,"y":-6.6},{"s":"120mm","x":-9.5,"y":-6.75},{"s":"120mm","x":-8.5,"y":-6.65},{"s":"120mm","x":-7.5,"y":-6.3},{"s":"120mm","x":-6.5,"y":-5.85},{"s":"120mm","x":-5.5,"y":-5.35},{"s":"120mm","x":-4.5,"y":-4.75},{"s":"120mm","x":-3.5,"y":-4.1},{"s":"120mm","x":-2.5,"y":-3.4},{"s":"120mm","x":-1.6,"y":-2.8},{"s":"120mm","x":-0.8,"y":-2.3},{"s":"120mm","x":0,"y":-1.9},{"s":"120mm","x":0.8,"y":-2.6},{"s":"120mm","x":1.6,"y":-3.3},{"s":"120mm","x":2.5,"y":-3.9},{"s":"120mm","x":3.5,"y":-4.5},{"s":"120mm","x":4.5,"y":-5.0},{"s":"120mm","x":5.5,"y":-5.5},{"s":"120mm","x":6.5,"y":-5.95},{"s":"120mm","x":7.5,"y":-6.35},{"s":"120mm","x":8.8,"y":-6.85},{"s":"120mm","x":10,"y":-6.7},{"s":"120mm","x":11,"y":-6.4},{"s":"120mm","x":12,"y":-6.1},{"s":"120mm","x":13,"y":-5.85},{"s":"120mm","x":13.8,"y":-5.6},{"s":"120mm","x":14.7,"y":-5.2},{"s":"120mm","x":15.5,"y":-3.4},{"s":"120mm","x":16.2,"y":0}
    ],
    "f": [
      {"s":"40mm","x":-12.9,"y":-0.4},{"s":"40mm","x":-12.4,"y":-1.75},{"s":"40mm","x":-11.8,"y":-3.15},{"s":"40mm","x":-11.2,"y":-4.6},{"s":"40mm","x":-10.4,"y":-5.9},{"s":"40mm","x":-9.4,"y":-6.25},{"s":"40mm","x":-8.4,"y":-6.4},{"s":"40mm","x":-7.4,"y":-6.25},{"s":"40mm","x":-6.4,"y":-5.9},{"s":"40mm","x":-5.4,"y":-5.4},{"s":"40mm","x":-4.4,"y":-4.6},{"s":"40mm","x":-3.4,"y":-3.9},{"s":"40mm","x":-2.5,"y":-3.2},{"s":"40mm","x":-1.6,"y":-2.3},{"s":"40mm","x":-0.8,"y":-1.7},{"s":"40mm","x":0,"y":-2.0},{"s":"40mm","x":0.8,"y":-2.6},{"s":"40mm","x":1.6,"y":-3.2},{"s":"40mm","x":2.5,"y":-3.8},{"s":"40mm","x":3.4,"y":-4.4},{"s":"40mm","x":4.4,"y":-4.9},{"s":"40mm","x":5.4,"y":-5.4},{"s":"40mm","x":6.4,"y":-5.75},{"s":"40mm","x":7.4,"y":-6.0},{"s":"40mm","x":8.4,"y":-6.05},{"s":"40mm","x":9.4,"y":-5.85},{"s":"40mm","x":10.4,"y":-5.7},{"s":"40mm","x":11.2,"y":-5.5},{"s":"40mm","x":11.8,"y":-3.7},{"s":"40mm","x":12.3,"y":-1.5},{"s":"40mm","x":12.9,"y":-0.15},
      {"s":"60mm","x":-13,"y":0},{"s":"60mm","x":-12.4,"y":-1.8},{"s":"60mm","x":-11.8,"y":-5.9},{"s":"60mm","x":-11.2,"y":-6.1},{"s":"60mm","x":-10.4,"y":-6.3},{"s":"60mm","x":-9.4,"y":-6.45},{"s":"60mm","x":-8.4,"y":-6.55},{"s":"60mm","x":-7.4,"y":-6.35},{"s":"60mm","x":-6.4,"y":-5.95},{"s":"60mm","x":-5.4,"y":-5.4},{"s":"60mm","x":-4.4,"y":-4.7},{"s":"60mm","x":-3.4,"y":-4.0},{"s":"60mm","x":-2.5,"y":-3.3},{"s":"60mm","x":-1.6,"y":-2.6},{"s":"60mm","x":-0.8,"y":-2.1},{"s":"60mm","x":0,"y":-1.75},{"s":"60mm","x":0.8,"y":-2.6},{"s":"60mm","x":1.6,"y":-3.3},{"s":"60mm","x":2.5,"y":-4.0},{"s":"60mm","x":3.4,"y":-4.6},{"s":"60mm","x":4.4,"y":-5.1},{"s":"60mm","x":5.4,"y":-5.55},{"s":"60mm","x":6.4,"y":-5.95},{"s":"60mm","x":7.4,"y":-6.25},{"s":"60mm","x":8.4,"y":-6.4},{"s":"60mm","x":9.4,"y":-6.3},{"s":"60mm","x":10.4,"y":-6.1},{"s":"60mm","x":11.2,"y":-5.9},{"s":"60mm","x":11.8,"y":-3.0},{"s":"60mm","x":12.9,"y":0},
      {"s":"80mm","x":-13,"y":0},{"s":"80mm","x":-12.4,"y":-3.2},{"s":"80mm","x":-11.8,"y":-6.1},{"s":"80mm","x":-11.2,"y":-6.2},{"s":"80mm","x":-10.4,"y":-6.35},{"s":"80mm","x":-9.4,"y":-6.5},{"s":"80mm","x":-8.4,"y":-6.6},{"s":"80mm","x":-7.4,"y":-6.4},{"s":"80mm","x":-6.4,"y":-6.0},{"s":"80mm","x":-5.4,"y":-5.5},{"s":"80mm","x":-4.4,"y":-4.85},{"s":"80mm","x":-3.4,"y":-4.1},{"s":"80mm","x":-2.5,"y":-3.4},{"s":"80mm","x":-1.6,"y":-2.8},{"s":"80mm","x":-0.8,"y":-2.3},{"s":"80mm","x":0,"y":-2.0},{"s":"80mm","x":0.8,"y":-2.9},{"s":"80mm","x":1.6,"y":-3.6},{"s":"80mm","x":2.5,"y":-4.3},{"s":"80mm","x":3.4,"y":-4.9},{"s":"80mm","x":4.4,"y":-5.4},{"s":"80mm","x":5.4,"y":-5.8},{"s":"80mm","x":6.4,"y":-6.1},{"s":"80mm","x":7.4,"y":-6.35},{"s":"80mm","x":8.4,"y":-6.5},{"s":"80mm","x":9.4,"y":-6.4},{"s":"80mm","x":10.4,"y":-6.2},{"s":"80mm","x":11.2,"y":-5.1},{"s":"80mm","x":11.8,"y":-3.5},{"s":"80mm","x":12.9,"y":0},
      {"s":"100mm","x":-13,"y":0},{"s":"100mm","x":-12.4,"y":-3.0},{"s":"100mm","x":-11.8,"y":-6.2},{"s":"100mm","x":-11.2,"y":-6.3},{"s":"100mm","x":-10.4,"y":-6.45},{"s":"100mm","x":-9.4,"y":-6.6},{"s":"100mm","x":-8.4,"y":-6.65},{"s":"100mm","x":-7.4,"y":-6.45},{"s":"100mm","x":-6.4,"y":-6.05},{"s":"100mm","x":-5.4,"y":-5.5},{"s":"100mm","x":-4.4,"y":-4.75},{"s":"100mm","x":-3.4,"y":-3.95},{"s":"100mm","x":-2.5,"y":-3.3},{"s":"100mm","x":-1.6,"y":-2.8},{"s":"100mm","x":-0.8,"y":-2.4},{"s":"100mm","x":0,"y":-2.2},{"s":"100mm","x":0.8,"y":-2.9},{"s":"100mm","x":1.6,"y":-3.6},{"s":"100mm","x":2.5,"y":-4.35},{"s":"100mm","x":3.4,"y":-4.95},{"s":"100mm","x":4.4,"y":-5.45},{"s":"100mm","x":5.4,"y":-5.85},{"s":"100mm","x":6.4,"y":-6.15},{"s":"100mm","x":7.4,"y":-6.4},{"s":"100mm","x":8.4,"y":-6.55},{"s":"100mm","x":9.4,"y":-6.45},{"s":"100mm","x":10.4,"y":-6.25},{"s":"100mm","x":11.2,"y":-5.8},{"s":"100mm","x":11.8,"y":-3.2},{"s":"100mm","x":12.9,"y":0},
      {"s":"120mm","x":-13,"y":0},{"s":"120mm","x":-12.4,"y":-3.1},{"s":"120mm","x":-11.8,"y":-6.4},{"s":"120mm","x":-11.2,"y":-6.5},{"s":"120mm","x":-10.4,"y":-6.6},{"s":"120mm","x":-9.4,"y":-6.7},{"s":"120mm","x":-8.4,"y":-6.8},{"s":"120mm","x":-7.4,"y":-6.6},{"s":"120mm","x":-6.4,"y":-6.2},{"s":"120mm","x":-5.4,"y":-5.6},{"s":"120mm","x":-4.4,"y":-4.9},{"s":"120mm","x":-3.4,"y":-4.1},{"s":"120mm","x":-2.5,"y":-3.4},{"s":"120mm","x":-1.6,"y":-2.9},{"s":"120mm","x":-0.8,"y":-2.6},{"s":"120mm","x":0,"y":-2.5},{"s":"120mm","x":0.8,"y":-3.2},{"s":"120mm","x":1.6,"y":-3.8},{"s":"120mm","x":2.5,"y":-4.5},{"s":"120mm","x":3.4,"y":-5.1},{"s":"120mm","x":4.4,"y":-5.6},{"s":"120mm","x":5.4,"y":-6.0},{"s":"120mm","x":6.4,"y":-6.3},{"s":"120mm","x":7.4,"y":-6.55},{"s":"120mm","x":8.4,"y":-6.65},{"s":"120mm","x":9.4,"y":-6.55},{"s":"120mm","x":10.4,"y":-6.35},{"s":"120mm","x":11.2,"y":-6.0},{"s":"120mm","x":11.8,"y":-3.0},{"s":"120mm","x":12.9,"y":0}
    ]
  },
  "columns": 3,
  "bounds": "flush",
  "spacing": {"row": 54, "column": 52.5},
  "resolve": {
    "scale": {"color": "independent", "shape": "independent"},
    "legend": {"color": "independent", "shape": "independent"}
  },
  "concat": [
    {
      "width": 204, "height": 163,
      "layer": [
        {"data": {"name": "a"}, "mark": {"type": "line", "strokeWidth": 1, "point": {"filled": true, "size": 12, "opacity": 1}},
         "encoding": {
           "x": {"field": "x", "type": "quantitative", "scale": {"domain": [-45, 45], "nice": false, "zero": false}, "axis": {"values": [-40, -20, 0, 20, 40], "title": "Radial distancc/mm"}},
           "y": {"field": "y", "type": "quantitative", "scale": {"domain": [-9, 1], "nice": false, "zero": false}, "axis": {"values": [-8, -6, -4, -2, 0], "title": "Tangential velocity/m·s⁻¹"}},
           "color": {"field": "s", "type": "nominal", "title": null, "scale": {"domain": ["40mm", "60mm", "80mm", "100mm", "120mm"], "range": ["#000000", "#ff0000", "#0000ff", "#0a8f0a", "#b36bff"]},
             "legend": {"encoding": {"symbols": {
               "shape": {"value": {"signal": "['M-3.7,0H3.7M-0.6,-0.6H0.6V0.6H-0.6Z','M-3.7,0H3.7M0.65,0A0.65,0.65,0,1,1,-0.65,0A0.65,0.65,0,1,1,0.65,0Z','M-3.7,0H3.7M0,-0.8L0.7,0.5H-0.7Z','M-3.7,0H3.7M0,0.8L0.7,-0.5H-0.7Z','M-3.7,0H3.7M0,-0.85L0.6,0L0,0.85L-0.6,0Z'][datum.index]"}},
               "strokeWidth": {"value": 1}, "size": {"value": 36}, "opacity": {"value": 1}}}}},
           "shape": {"field": "s", "type": "nominal", "legend": null, "scale": {"range": ["triangle-down", "diamond", "square", "circle", "triangle-up"]}}}},
        {"data": {"values": [{"tag": "(a)"}]}, "mark": {"type": "text"},
         "encoding": {"x": {"datum": -39.5}, "y": {"datum": 0.42}, "text": {"field": "tag"}}},
        {"data": {"values": [{"tag": "Z=-85mm"}]}, "mark": {"type": "text"},
         "encoding": {"x": {"datum": 0}, "y": {"datum": 0.28}, "text": {"field": "tag"}}}
      ]
    },
    {
      "width": 204, "height": 163,
      "layer": [
        {"data": {"name": "b"}, "mark": {"type": "line", "strokeWidth": 1, "point": {"filled": true, "size": 12, "opacity": 1}},
         "encoding": {
           "x": {"field": "x", "type": "quantitative", "scale": {"domain": [-45, 45], "nice": false, "zero": false}, "axis": {"values": [-40, -20, 0, 20, 40], "title": "Radial distancc/mm"}},
           "y": {"field": "y", "type": "quantitative", "scale": {"domain": [-9, 1], "nice": false, "zero": false}, "axis": {"values": [-8, -6, -4, -2, 0], "title": "Tangential velocity/m·s⁻¹"}},
           "color": {"field": "s", "type": "nominal", "title": null, "scale": {"domain": ["40mm", "60mm", "80mm", "100mm", "120mm"], "range": ["#000000", "#ff0000", "#0000ff", "#0a8f0a", "#b36bff"]},
             "legend": {"encoding": {"symbols": {
               "shape": {"value": {"signal": "['M-3.7,0H3.7M-0.6,-0.6H0.6V0.6H-0.6Z','M-3.7,0H3.7M0.65,0A0.65,0.65,0,1,1,-0.65,0A0.65,0.65,0,1,1,0.65,0Z','M-3.7,0H3.7M0,-0.8L0.7,0.5H-0.7Z','M-3.7,0H3.7M0,0.8L0.7,-0.5H-0.7Z','M-3.7,0H3.7M0,-0.85L0.6,0L0,0.85L-0.6,0Z'][datum.index]"}},
               "strokeWidth": {"value": 1}, "size": {"value": 36}, "opacity": {"value": 1}}}}},
           "shape": {"field": "s", "type": "nominal", "legend": null, "scale": {"range": ["triangle-down", "diamond", "square", "circle", "triangle-up"]}}}},
        {"data": {"values": [{"tag": "(b)"}]}, "mark": {"type": "text"},
         "encoding": {"x": {"datum": -39.5}, "y": {"datum": 0.42}, "text": {"field": "tag"}}},
        {"data": {"values": [{"tag": "Z=-166mm"}]}, "mark": {"type": "text"},
         "encoding": {"x": {"datum": 1.2}, "y": {"datum": 0.28}, "text": {"field": "tag"}}}
      ]
    },
    {
      "width": 204, "height": 163,
      "layer": [
        {"data": {"name": "c"}, "mark": {"type": "line", "strokeWidth": 1, "point": {"filled": true, "size": 12, "opacity": 1}},
         "encoding": {
           "x": {"field": "x", "type": "quantitative", "scale": {"domain": [-45, 45], "nice": false, "zero": false}, "axis": {"values": [-40, -20, 0, 20, 40], "title": "Radial distancc/mm"}},
           "y": {"field": "y", "type": "quantitative", "scale": {"domain": [-9, 1], "nice": false, "zero": false}, "axis": {"values": [-8, -6, -4, -2, 0], "title": "Tangential velocity/m·s⁻¹"}},
           "color": {"field": "s", "type": "nominal", "title": null, "scale": {"domain": ["40mm", "60mm", "80mm", "100mm", "120mm"], "range": ["#000000", "#ff0000", "#0000ff", "#0a8f0a", "#b36bff"]},
             "legend": {"encoding": {"symbols": {
               "shape": {"value": {"signal": "['M-3.7,0H3.7M-0.6,-0.6H0.6V0.6H-0.6Z','M-3.7,0H3.7M0.65,0A0.65,0.65,0,1,1,-0.65,0A0.65,0.65,0,1,1,0.65,0Z','M-3.7,0H3.7M0,-0.8L0.7,0.5H-0.7Z','M-3.7,0H3.7M0,0.8L0.7,-0.5H-0.7Z','M-3.7,0H3.7M0,-0.85L0.6,0L0,0.85L-0.6,0Z'][datum.index]"}},
               "strokeWidth": {"value": 1}, "size": {"value": 36}, "opacity": {"value": 1}}}}},
           "shape": {"field": "s", "type": "nominal", "legend": null, "scale": {"range": ["triangle-down", "diamond", "square", "circle", "triangle-up"]}}}},
        {"data": {"values": [{"tag": "(c)"}]}, "mark": {"type": "text"},
         "encoding": {"x": {"datum": -39.5}, "y": {"datum": 0.42}, "text": {"field": "tag"}}},
        {"data": {"values": [{"tag": "Z=-186mm"}]}, "mark": {"type": "text"},
         "encoding": {"x": {"datum": 0}, "y": {"datum": 0.28}, "text": {"field": "tag"}}}
      ]
    },
    {
      "width": 204, "height": 163,
      "layer": [
        {"data": {"name": "d"}, "mark": {"type": "line", "strokeWidth": 1, "point": {"filled": true, "size": 12, "opacity": 1}},
         "encoding": {
           "x": {"field": "x", "type": "quantitative", "scale": {"domain": [-45, 45], "nice": false, "zero": false}, "axis": {"values": [-40, -20, 0, 20, 40], "title": "Radial distance/mm"}},
           "y": {"field": "y", "type": "quantitative", "scale": {"domain": [-9, 1], "nice": false, "zero": false}, "axis": {"values": [-8, -6, -4, -2, 0], "title": "Tangential velocity/m·s⁻¹"}},
           "color": {"field": "s", "type": "nominal", "title": null, "scale": {"domain": ["40mm", "60mm", "80mm", "100mm", "120mm"], "range": ["#000000", "#ff0000", "#0000ff", "#0a8f0a", "#b36bff"]},
             "legend": {"encoding": {"symbols": {
               "shape": {"value": {"signal": "['M-3.7,0H3.7M-0.6,-0.6H0.6V0.6H-0.6Z','M-3.7,0H3.7M0.65,0A0.65,0.65,0,1,1,-0.65,0A0.65,0.65,0,1,1,0.65,0Z','M-3.7,0H3.7M0,-0.8L0.7,0.5H-0.7Z','M-3.7,0H3.7M0,0.8L0.7,-0.5H-0.7Z','M-3.7,0H3.7M0,-0.85L0.6,0L0,0.85L-0.6,0Z'][datum.index]"}},
               "strokeWidth": {"value": 1}, "size": {"value": 36}, "opacity": {"value": 1}}}}},
           "shape": {"field": "s", "type": "nominal", "legend": null, "scale": {"range": ["triangle-down", "diamond", "square", "circle", "triangle-up"]}}}},
        {"data": {"values": [{"tag": "(d)"}]}, "mark": {"type": "text"},
         "encoding": {"x": {"datum": -39.5}, "y": {"datum": 0.42}, "text": {"field": "tag"}}},
        {"data": {"values": [{"tag": "Z=-206mm"}]}, "mark": {"type": "text"},
         "encoding": {"x": {"datum": 0.3}, "y": {"datum": 0.28}, "text": {"field": "tag"}}}
      ]
    },
    {
      "width": 204, "height": 163,
      "layer": [
        {"data": {"name": "e"}, "mark": {"type": "line", "strokeWidth": 1, "point": {"filled": true, "size": 12, "opacity": 1}},
         "encoding": {
           "x": {"field": "x", "type": "quantitative", "scale": {"domain": [-45, 45], "nice": false, "zero": false}, "axis": {"values": [-40, -20, 0, 20, 40], "title": "Radial distance/mm"}},
           "y": {"field": "y", "type": "quantitative", "scale": {"domain": [-9, 1], "nice": false, "zero": false}, "axis": {"values": [-8, -6, -4, -2, 0], "title": "Tangential velocity/m·s⁻¹"}},
           "color": {"field": "s", "type": "nominal", "title": null, "scale": {"domain": ["40mm", "60mm", "80mm", "100mm", "120mm"], "range": ["#000000", "#ff0000", "#0000ff", "#0a8f0a", "#b36bff"]},
             "legend": {"encoding": {"symbols": {
               "shape": {"value": {"signal": "['M-3.7,0H3.7M-0.6,-0.6H0.6V0.6H-0.6Z','M-3.7,0H3.7M0.65,0A0.65,0.65,0,1,1,-0.65,0A0.65,0.65,0,1,1,0.65,0Z','M-3.7,0H3.7M0,-0.8L0.7,0.5H-0.7Z','M-3.7,0H3.7M0,0.8L0.7,-0.5H-0.7Z','M-3.7,0H3.7M0,-0.85L0.6,0L0,0.85L-0.6,0Z'][datum.index]"}},
               "strokeWidth": {"value": 1}, "size": {"value": 36}, "opacity": {"value": 1}}}}},
           "shape": {"field": "s", "type": "nominal", "legend": null, "scale": {"range": ["triangle-down", "diamond", "square", "circle", "triangle-up"]}}}},
        {"data": {"values": [{"tag": "(e)"}]}, "mark": {"type": "text"},
         "encoding": {"x": {"datum": -39.5}, "y": {"datum": 0.42}, "text": {"field": "tag"}}},
        {"data": {"values": [{"tag": "Z=-226mm"}]}, "mark": {"type": "text"},
         "encoding": {"x": {"datum": 1.1}, "y": {"datum": 0.28}, "text": {"field": "tag"}}}
      ]
    },
    {
      "width": 204, "height": 163,
      "layer": [
        {"data": {"name": "f"}, "mark": {"type": "line", "strokeWidth": 1, "point": {"filled": true, "size": 12, "opacity": 1}},
         "encoding": {
           "x": {"field": "x", "type": "quantitative", "scale": {"domain": [-45, 45], "nice": false, "zero": false}, "axis": {"values": [-40, -20, 0, 20, 40], "title": "Radial distance/mm"}},
           "y": {"field": "y", "type": "quantitative", "scale": {"domain": [-9, 1], "nice": false, "zero": false}, "axis": {"values": [-8, -6, -4, -2, 0], "title": "Tangential velocity/m·s⁻¹"}},
           "color": {"field": "s", "type": "nominal", "title": null, "scale": {"domain": ["40mm", "60mm", "80mm", "100mm", "120mm"], "range": ["#000000", "#ff0000", "#0000ff", "#0a8f0a", "#b36bff"]},
             "legend": {"encoding": {"symbols": {
               "shape": {"value": {"signal": "['M-3.7,0H3.7M-0.6,-0.6H0.6V0.6H-0.6Z','M-3.7,0H3.7M0.65,0A0.65,0.65,0,1,1,-0.65,0A0.65,0.65,0,1,1,0.65,0Z','M-3.7,0H3.7M0,-0.8L0.7,0.5H-0.7Z','M-3.7,0H3.7M0,0.8L0.7,-0.5H-0.7Z','M-3.7,0H3.7M0,-0.85L0.6,0L0,0.85L-0.6,0Z'][datum.index]"}},
               "strokeWidth": {"value": 1}, "size": {"value": 36}, "opacity": {"value": 1}}}}},
           "shape": {"field": "s", "type": "nominal", "legend": null, "scale": {"range": ["triangle-down", "diamond", "square", "circle", "triangle-up"]}}}},
        {"data": {"values": [{"tag": "(f)"}]}, "mark": {"type": "text"},
         "encoding": {"x": {"datum": -39.5}, "y": {"datum": 0.42}, "text": {"field": "tag"}}},
        {"data": {"values": [{"tag": "Z=-246mm"}]}, "mark": {"type": "text"},
         "encoding": {"x": {"datum": 1}, "y": {"datum": 0.28}, "text": {"field": "tag"}}}
      ]
    }
  ]
}
